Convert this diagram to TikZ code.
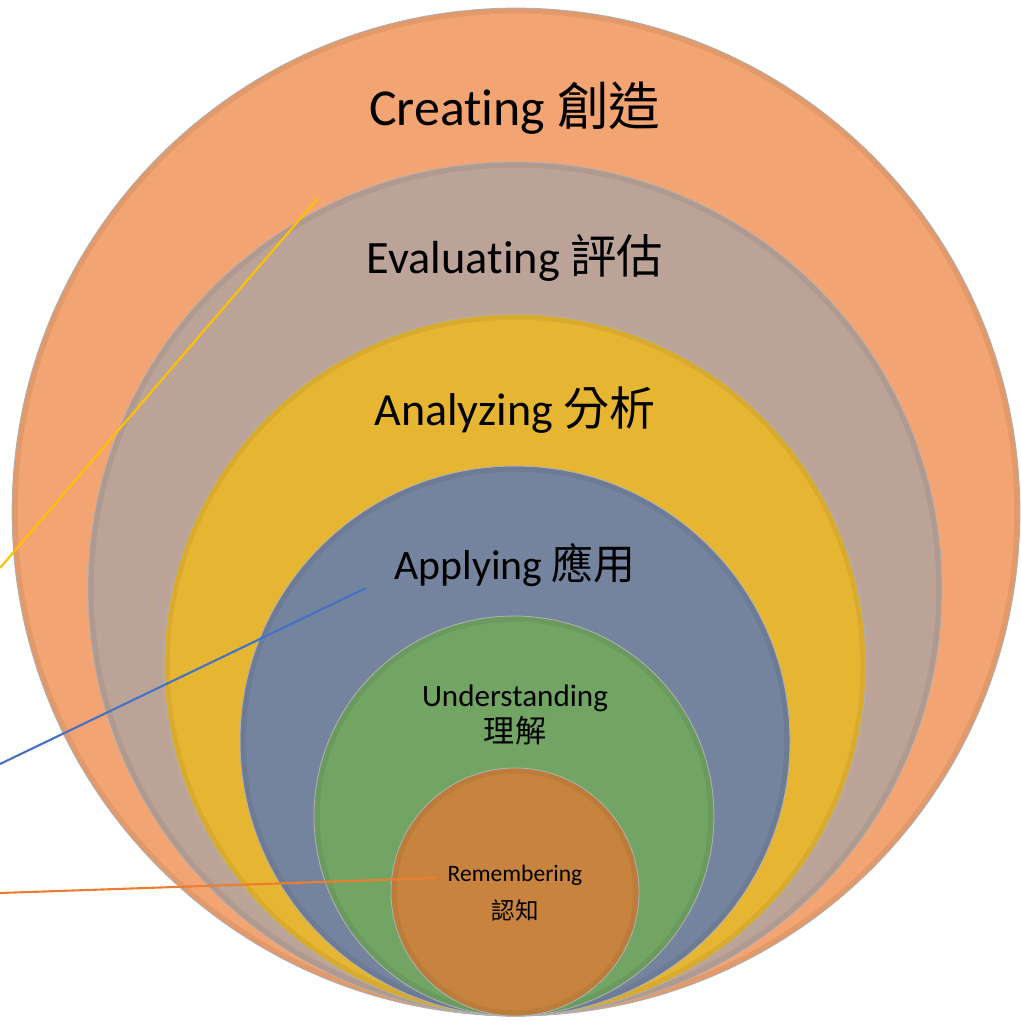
\documentclass[tikz,border=0pt]{standalone}
\usepackage{fontspec}
\setmainfont{Carlito}[Ligatures=NoCommon]
\newfontfamily\cjk{Noto Sans CJK TC}
\usepackage{xcolor}

\definecolor{creatingcol}{HTML}{F2A472}
\definecolor{evaluatingcol}{HTML}{BCA398}
\definecolor{analyzingcol}{HTML}{E6B632}
\definecolor{applyingcol}{HTML}{74849E}
\definecolor{understandingcol}{HTML}{72A464}
\definecolor{rememberingcol}{HTML}{C8843E}
\definecolor{leaderyellow}{HTML}{FFC000}
\definecolor{leaderblue}{HTML}{4472C4}
\definecolor{leaderorange}{HTML}{ED7D31}

\begin{document}
\begin{tikzpicture}[x=0.02cm,y=-0.02cm,
  level/.style={circle,inner sep=0pt,draw=black!30,line width=0.5pt},
  rim/.style={draw=black,opacity=0.06,line width=3pt},
  leader/.style={line width=1.2pt}]
\useasboundingbox (0,0) rectangle (1020,1023);
%% the six levels, all touching at the bottom
\node [level, fill=creatingcol, minimum size=20.16cm] (creating) at (516,512) {};
\draw [rim] (516,512) circle (501);
\node [level, fill=evaluatingcol, minimum size=17.08cm] (evaluating) at (515,589) {};
\draw [rim] (515,589) circle (424);
\node [level, fill=analyzingcol, minimum size=14.04cm] (analyzing) at (515,665) {};
\draw [rim] (515,665) circle (348);
\node [level, fill=applyingcol, minimum size=11.0cm] (applying) at (515,741) {};
\draw [rim] (515,741) circle (272);
\node [level, fill=understandingcol, minimum size=8.0cm] (understanding) at (514,816) {};
\draw [rim] (514,816) circle (197);
\node [level, fill=rememberingcol, minimum size=4.96cm] (remembering) at (515,892) {};
\draw [rim] (515,892) circle (121);
%% labels
\node (creatingtxt) at (515,108) {\fontsize{29.5}{32}\selectfont Creating {\cjk 創造}};
\node (evaluatingtxt) at (515,258) {\fontsize{26.4}{30}\selectfont Evaluating {\cjk 評估}};
\node (analyzingtxt) at (515,410) {\fontsize{26.2}{30}\selectfont Analyzing {\cjk 分析}};
\node (applyingtxt) at (515,565) {\fontsize{23.8}{28}\selectfont Applying {\cjk 應用}};
\node [align=center, font=\fontsize{17.7}{20.4}\selectfont] (understandingtxt) at (515,715)
  {Understanding\\{\cjk 理解}};
\node [align=center, font=\fontsize{13.4}{21.5}\selectfont] (rememberingtxt) at (515,893)
  {Remembering\\{\cjk 認知}};
%% leader lines running off the left edge
\coordinate (creatingtip) at (318,198);
\coordinate (creatingfree) at (0,568);
\coordinate (applyingtip) at (366,588);
\coordinate (applyingfree) at (0,764);
\coordinate (rememberingtip) at (437,878);
\coordinate (rememberingfree) at (0,893);
\draw [leader, leaderyellow] (creatingtip) -- (creatingfree);
\draw [leader, leaderblue] (applyingtip) -- (applyingfree);
\draw [leader, leaderorange] (rememberingtip) -- (rememberingfree);
\end{tikzpicture}
\end{document}
